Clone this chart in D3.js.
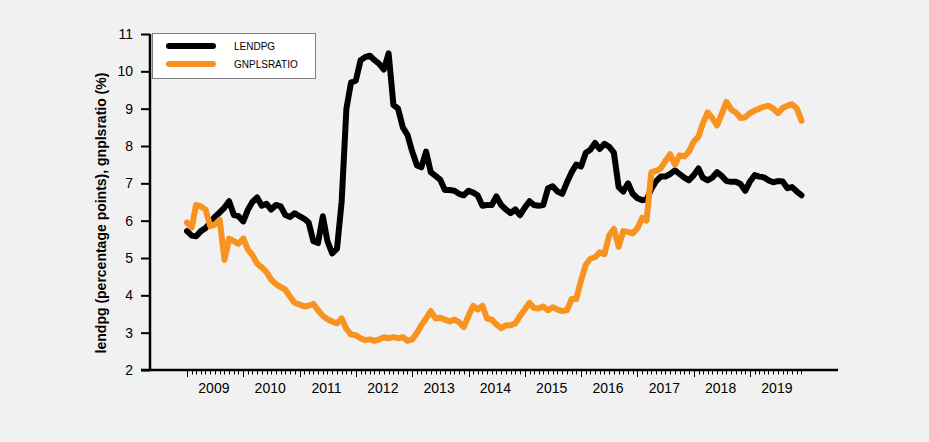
<!DOCTYPE html>
<html>
<head>
<meta charset="utf-8">
<script src="https://cdn.jsdelivr.net/npm/d3@7"></script>
<style>
  html, body { margin: 0; padding: 0; background: #f1f1f1; }
  svg { display: block; font-family: "Liberation Sans", Arial, sans-serif; }
</style>
</head>
<body>
<svg id="chart" width="929" height="442"></svg>
<script>
// monthly observations, Jan 2009 .. Dec 2019
var start_month = new Date(2009, 0, 1)
var series_names = ['LENDPG', 'GNPLSRATIO']
var series_colors = ['#000000', '#f7931e']
var y_ticks = [2, 3, 4, 5, 6, 7, 8, 9, 10, 11]
var year_labels = ['2009', '2010', '2011', '2012', '2013', '2014', '2015', '2016', '2017', '2018', '2019']
var y_title = 'lendpg (percentage points), gnplsratio (%)'

var lendpg = [
  5.72, 5.6, 5.58, 5.72, 5.8, 5.95, 6.1, 6.22, 6.35, 6.52, 6.15, 6.12,
  5.98, 6.3, 6.5, 6.62, 6.4, 6.45, 6.3, 6.42, 6.38, 6.15, 6.1, 6.2,
  6.12, 6.05, 5.95, 5.45, 5.4, 6.12, 5.45, 5.12, 5.25, 6.5, 9.0, 9.7,
  9.75, 10.3, 10.38, 10.42, 10.3, 10.2, 10.05, 10.48, 9.1, 9.0, 8.5, 8.3,
  7.85, 7.48, 7.43, 7.85, 7.3, 7.2, 7.1, 6.82, 6.82, 6.8, 6.72, 6.68,
  6.8, 6.75, 6.68, 6.4, 6.42, 6.42, 6.65, 6.42, 6.3, 6.2, 6.3, 6.15,
  6.35, 6.52, 6.42, 6.4, 6.42, 6.87, 6.92, 6.78, 6.72, 7.02, 7.3, 7.5,
  7.45, 7.82, 7.9, 8.08, 7.92, 8.06, 7.98, 7.82, 6.9, 6.78, 7.0, 6.72,
  6.6, 6.55, 6.56, 6.85, 7.05, 7.18, 7.18, 7.25, 7.35, 7.25, 7.15, 7.08,
  7.22, 7.4, 7.15, 7.08, 7.15, 7.3, 7.2, 7.06, 7.04, 7.04, 6.98, 6.8,
  7.05, 7.22, 7.18, 7.16, 7.08, 7.03, 7.06, 7.05, 6.87, 6.9, 6.78, 6.68
]

var gnplsratio = [
  5.95, 5.82, 6.42, 6.38, 6.3, 5.85, 5.9, 6.02, 4.95, 5.52, 5.45, 5.38,
  5.52, 5.22, 5.08, 4.85, 4.75, 4.62, 4.42, 4.3, 4.22, 4.15, 3.96, 3.8,
  3.75, 3.7, 3.72, 3.77, 3.6, 3.45, 3.36, 3.3, 3.25, 3.38, 3.1, 2.95,
  2.93, 2.85, 2.8, 2.82, 2.78, 2.82, 2.88, 2.85, 2.88, 2.85, 2.88, 2.78,
  2.82, 3.0, 3.2, 3.38, 3.58, 3.38, 3.4, 3.35, 3.3, 3.35, 3.28, 3.15,
  3.45, 3.72, 3.62, 3.72, 3.38, 3.35, 3.22, 3.12, 3.2, 3.2, 3.25, 3.45,
  3.62, 3.8, 3.66, 3.65, 3.7, 3.6, 3.68, 3.62, 3.58, 3.6, 3.9, 3.9,
  4.4, 4.82, 4.98, 5.02, 5.15, 5.1, 5.6, 5.78, 5.3, 5.72, 5.7, 5.66,
  5.8, 6.08, 6.0, 7.3, 7.33, 7.4, 7.6, 7.78, 7.5, 7.75, 7.72, 7.85,
  8.12, 8.25, 8.6, 8.9, 8.75, 8.55, 8.85, 9.18, 8.98, 8.9, 8.75, 8.77,
  8.88, 8.95, 9.0, 9.05, 9.08, 9.0, 8.88, 9.02, 9.08, 9.12, 9.0, 8.68
]

var months = d3.timeMonth.range(start_month, d3.timeMonth.offset(start_month, lendpg.length))
var series = [lendpg, gnplsratio]

var svg = d3.select('#chart')
var axis_y = 370, axis_x = 150

var x = d3.scaleTime()
    .domain([new Date(2009, 0, 1), new Date(2019, 0, 1)])
    .range([187, 750])
var y = d3.scaleLinear()
    .domain([2, 11])
    .range([axis_y, 34])

// x axis: monthly minor ticks, yearly major ticks, labels mid-year
var x_axis = svg.append('g').attr('class', 'x_axis')
x_axis.append('line')
    .attr('x1', 141).attr('x2', 838)
    .attr('y1', axis_y).attr('y2', axis_y)
    .attr('stroke', '#000').attr('stroke-width', 2.5)
x_axis.selectAll('line.tick')
    .data(months)
    .enter().append('line')
        .attr('class', 'tick')
        .attr('x1', function(d) { return Math.round(x(d)) + 0.5 })
        .attr('x2', function(d) { return Math.round(x(d)) + 0.5 })
        .attr('y1', axis_y)
        .attr('y2', function(d) { return axis_y + (d.getMonth() == 0 ? 7 : 4.5) })
        .attr('stroke', '#000').attr('stroke-width', 1)
x_axis.selectAll('text')
    .data(year_labels)
    .enter().append('text')
        .attr('x', function(d) { return x(new Date(+d, 6, 1)) - 1 })
        .attr('y', 393)
        .attr('text-anchor', 'middle')
        .attr('font-size', 14)
        .attr('fill', '#000')
        .text(function(d) { return d })

// y axis
var y_axis = svg.append('g').attr('class', 'y_axis')
    .attr('transform', 'translate(' + axis_x + ',0)')
    .call(d3.axisLeft(y).tickValues(y_ticks).tickSize(9).tickPadding(8).tickFormat(d3.format('d')))
y_axis.select('.domain').attr('stroke-width', 2.5).attr('d', 'M0,' + y(11) + 'V' + axis_y)
y_axis.selectAll('.tick line').attr('stroke-width', 2)
y_axis.selectAll('.tick text')
    .attr('font-size', 14)
    .attr('font-family', '"Liberation Sans", Arial, sans-serif')

svg.append('text')
    .attr('transform', 'translate(106,' + 213 + ') rotate(-90)')
    .attr('text-anchor', 'middle')
    .attr('font-size', 14)
    .attr('font-weight', 'bold')
    .text(y_title)

// series lines
var line = d3.line()
    .x(function(d, i) { return x(months[i]) })
    .y(function(d) { return y(d) })
svg.selectAll('path.series')
    .data(series)
    .enter().append('path')
        .attr('class', 'series')
        .attr('d', line)
        .attr('fill', 'none')
        .attr('stroke', function(d, i) { return series_colors[i] })
        .attr('stroke-width', 6)
        .attr('stroke-linejoin', 'round')
        .attr('stroke-linecap', 'round')

// legend
var legend = svg.append('g').attr('class', 'legend')
legend.append('rect')
    .attr('x', 152.5).attr('y', 33.5)
    .attr('width', 163).attr('height', 45)
    .attr('fill', '#fff').attr('stroke', '#7f7f7f').attr('stroke-width', 1)
var entries = legend.selectAll('g.entry')
    .data(series_names)
    .enter().append('g')
        .attr('class', 'entry')
        .attr('transform', function(d, i) { return 'translate(0,' + (46 + i * 18) + ')' })
entries.append('line')
    .attr('x1', 169).attr('x2', 213)
    .attr('stroke', function(d, i) { return series_colors[i] })
    .attr('stroke-width', 6)
    .attr('stroke-linecap', 'round')
entries.append('text')
    .attr('x', 234).attr('y', 3.5)
    .attr('font-size', 10)
    .text(function(d) { return d })
</script>
</body>
</html>
